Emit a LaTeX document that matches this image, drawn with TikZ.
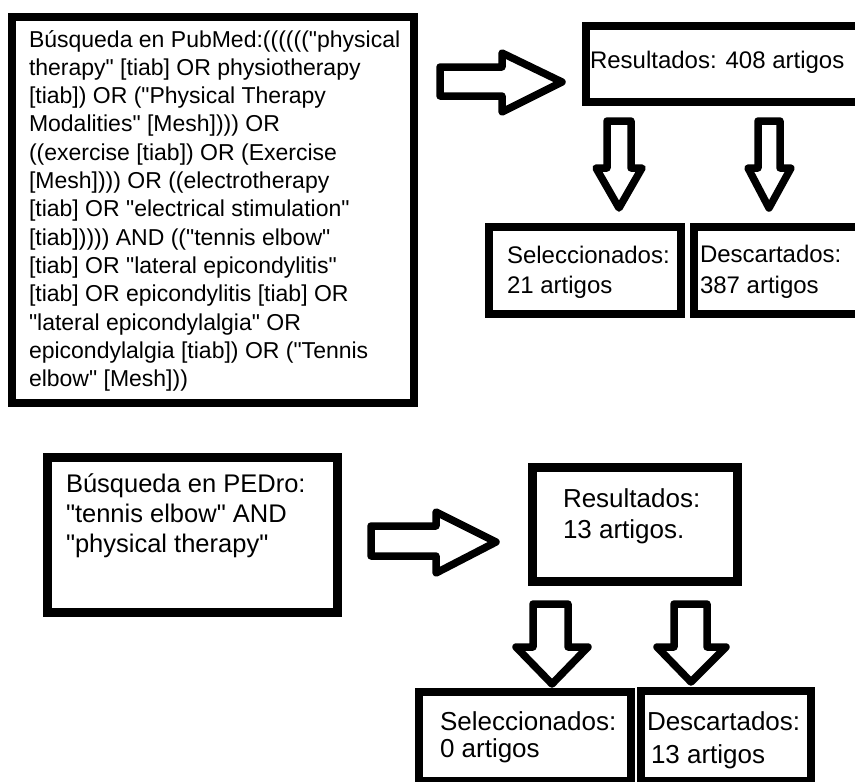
\documentclass[tikz,border=0pt]{standalone}
\usepackage{fontspec}
\setmainfont{Liberation Sans}[Ligatures=TeXOff]
\begin{document}
\begin{tikzpicture}[x=1pt,y=-1pt,
  box/.style={draw=black,line width=8pt},
  boxb/.style={draw=black,line width=9pt},
  barrow/.style={draw=black,fill=white,line width=7.5pt,line join=round},
  txt/.style={anchor=base west,inner sep=0pt,outer sep=0pt,align=left,text=black}]
\clip (0,0) rectangle (855,782);
\fill[white] (0,0) rectangle (855,782);

% ---------- PubMed part ----------
\draw[box] (12,17) rectangle (414,403);
\node[txt,font=\fontsize{23}{28.3}\selectfont] (pubmedtxt) at (29,386.6)
 {Búsqueda en PubMed:(((((("physical\\
 therapy" [tiab] OR physiotherapy\\{}%
 [tiab]) OR ("Physical Therapy\\
 Modalities" [Mesh]))) OR\\
 ((exercise [tiab]) OR (Exercise\\{}%
 [Mesh]))) OR ((electrotherapy\\{}%
 [tiab] OR "electrical stimulation"\\{}%
 [tiab])))) AND (("tennis elbow"\\{}%
 [tiab] OR "lateral epicondylitis"\\{}%
 [tiab] OR epicondylitis [tiab] OR\\
 "lateral epicondylalgia" OR\\
 epicondylalgia [tiab]) OR ("Tennis\\
 elbow" [Mesh]))};

\draw[box] (586,26) rectangle (880,102);
\node[txt,font=\fontsize{24}{30}\selectfont] (res1) at (590,68) {Resultados: 408 artigos};

\draw[box] (489,227) rectangle (681,314);
\node[txt,font=\fontsize{24}{30}\selectfont] (sel1) at (507,293) {Seleccionados:\\21 artigos};

\draw[box] (694,227) rectangle (880,314);
\node[txt,font=\fontsize{24}{31}\selectfont] (desc1) at (700,293) {Descartados:\\387 artigos};

\coordinate (r1tip) at (562,82);
\draw[barrow] (440,67) -- (502,67) -- (502,53) -- (r1tip) -- (502,112) -- (502,96) -- (440,96) -- cycle;

\coordinate (d1tip) at (619,208);
\draw[barrow] (607,121) -- (631,121) -- (631,168) -- (642,168) -- (d1tip) -- (596,168) -- (607,168) -- cycle;
\coordinate (d2tip) at (769,208);
\draw[barrow] (758,121) -- (780,121) -- (780,168) -- (791,168) -- (d2tip) -- (748,168) -- (758,168) -- cycle;

% ---------- PEDro part ----------
\draw[boxb] (47.5,457.5) rectangle (337.5,612.5);
\node[txt,font=\fontsize{25.5}{30}\selectfont] (pedrotxt) at (66,552)
 {Búsqueda en PEDro:\\
 "tennis elbow" AND\\
 "physical therapy"};

\coordinate (r2tip) at (496,542);
\draw[barrow] (371,526) -- (436,526) -- (436,512) -- (r2tip) -- (436,573) -- (436,556) -- (371,556) -- cycle;

\draw[boxb] (532.5,467.5) rectangle (737.5,581.5);
\node[txt,font=\fontsize{26}{31}\selectfont] (res2) at (563,538) {Resultados:\\13 artigos.};

\coordinate (d3tip) at (552,684);
\draw[barrow] (533,604) -- (568,604) -- (568,647) -- (588,647) -- (d3tip) -- (516,647) -- (533,647) -- cycle;
\coordinate (d4tip) at (691,682);
\draw[barrow] (674,604) -- (707,604) -- (707,647) -- (726,647) -- (d4tip) -- (657,647) -- (674,647) -- cycle;

\draw[box] (419,692) rectangle (631,781);
\node[txt,font=\fontsize{26}{27}\selectfont] (sel2) at (440,757) {Seleccionados:\\0 artigos};

\draw[box] (641,691) rectangle (811,781);
\node[txt,font=\fontsize{26}{33}\selectfont] (desc2) at (647,763) {Descartados:\\\hspace*{4pt}13 artigos};
\end{tikzpicture}
\end{document}
